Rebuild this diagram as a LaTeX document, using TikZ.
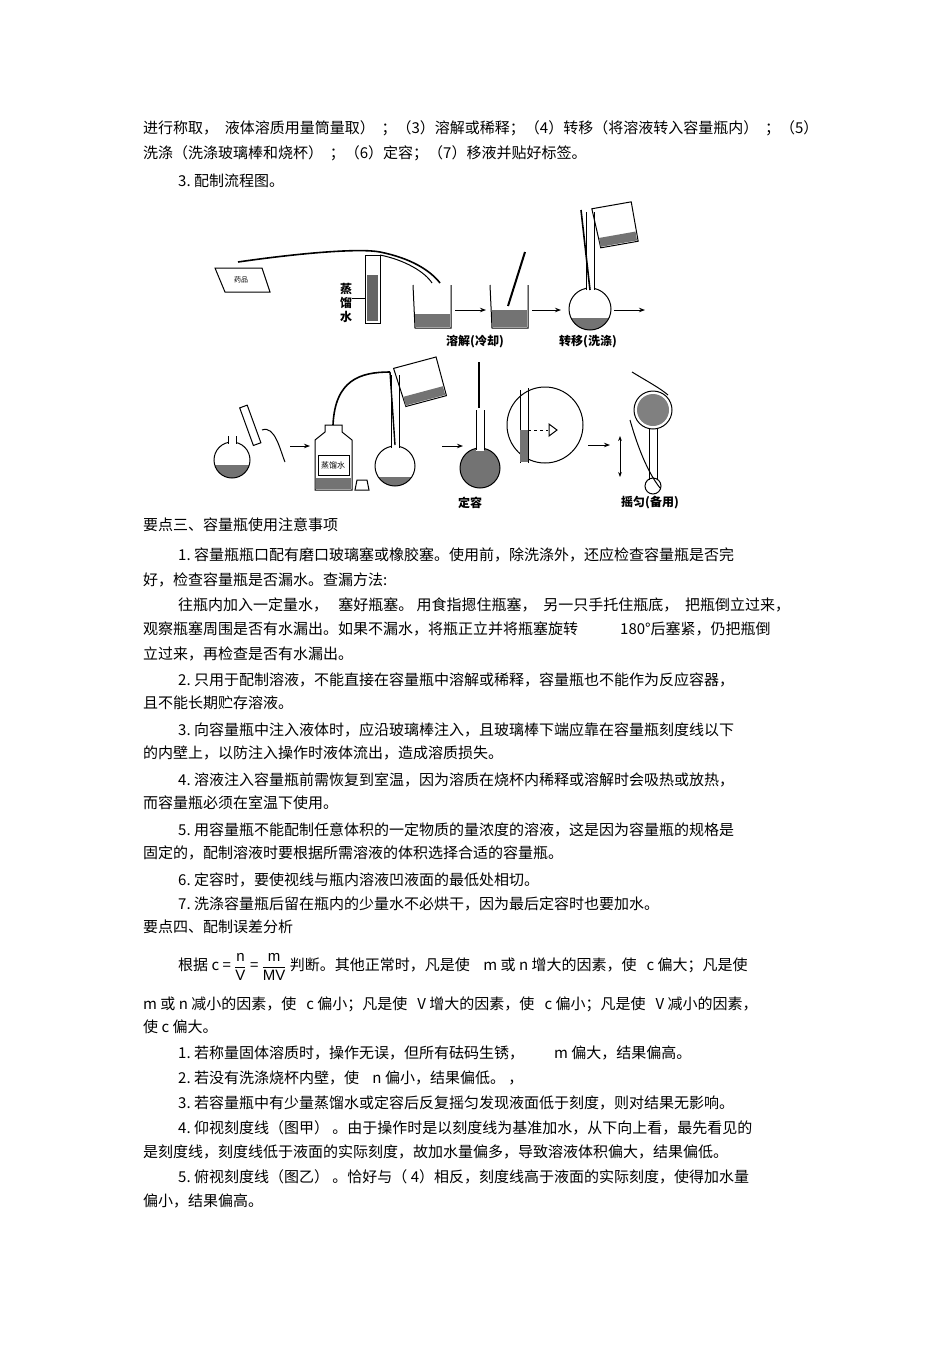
\documentclass[tikz,border=0pt]{standalone}
\usepackage{fontspec}
\setmainfont{Liberation Sans}
\newfontfamily\cjk{Noto Sans CJK SC}
\usetikzlibrary{arrows.meta}
\newcommand\tl[4]{\node[txt] (#1) at (#2,#3) {#4};}
% flask: center x, center y, radius, neck top y, liquid level y
\newcommand\flask[5]{%
 \begin{scope}\clip (#1,#2) circle[radius=#3]; \fill[black!55] (#1-#3,#5) rectangle (#1+#3,#2+#3);\end{scope}
 \draw[app] (#1,#2) circle[radius=#3];
 \fill[white] (#1-4,#2-#3-1) rectangle (#1+4,#2-#3+3);
 \draw[app] (#1-4,#2-#3+1.5) -- (#1-4,#4) (#1+4,#4) -- (#1+4,#2-#3+1.5);}
\begin{document}
\begin{tikzpicture}[x=1pt,y=-1pt,
 txt/.style={anchor=west,inner sep=0pt,font=\cjk\fontsize{15}{17}\selectfont},
 lab/.style={inner sep=0pt,font=\cjk\bfseries\fontsize{12}{14}\selectfont},
 app/.style={line width=1pt},
 arr/.style={-{Stealth[length=6pt]},line width=0.9pt}]
\useasboundingbox (0,0) rectangle (950,1345);
\fill[white] (0,0) rectangle (950,1345);
\tl{a1}{143}{128}{进行称取，\ \ 液体溶质用量筒量取）\ \ ；（3）溶解或稀释；（4）转移（将溶液转入容量瓶内）\ \ ；（5）}
\tl{a2}{143}{153}{洗涤（洗涤玻璃棒和烧杯）\ \ ；（6）定容；（7）移液并贴好标签。}
\tl{a3}{178}{181}{3.\ 配制流程图。}
% ---------- figure row 1
\draw[app] (215,268) -- (262,268) -- (270,292) -- (225,292) -- cycle;
\node[lab,font=\cjk\fontsize{7}{8}\selectfont] (yp) at (241,280) {药品};
\draw[app] (365,255) rectangle (380,323);
\fill[black!60] (367,275) rectangle (378,321);
\draw[line width=1.6pt] (238,262) .. controls (300,253) and (360,248) .. (380,252) .. controls (410,258) and (430,270) .. (440,283);
\draw[line width=1pt] (380,255) .. controls (405,260) and (425,272) .. (432,283);
\node[lab,align=center] (zl) at (346,303) {蒸\\馏\\水};
\draw (352,298) -- (365,298);
\draw[app] (413,285) -- (415,328) -- (451,328) -- (451,285);
\fill[black!55] (415,314) rectangle (450,327);
\draw[arr] (455,310) -- (486,310);
\draw[app] (490,285) -- (492,328) -- (528,328) -- (528,285);
\fill[black!55] (492,310) rectangle (527,327);
\draw[line width=2pt] (525,252) -- (508,306);
\node[lab] (rj) at (475,342) {溶解(冷却)};
\draw[arr] (532,310) -- (561,310);
\flask{590}{309}{21}{212}{318}
\draw[line width=1.6pt] (581,210) -- (590,290);
\draw[app,rotate around={10:(615,225)}] (595,205) -- (597,245) -- (635,245) -- (635,205) -- cycle;
\fill[black!55,rotate around={10:(615,225)}] (597,235) rectangle (634,244);
\node[lab] (zy) at (588,342) {转移(洗涤)};
\draw[arr] (614,310) -- (645,310);
% ---------- figure row 2
\flask{232}{460}{18}{436}{465}
\draw[app,rotate around={20:(252,430)}] (248,405) rectangle (256,445);
\draw[app] (262,430) .. controls (275,425) and (280,450) .. (285,462);
\draw[arr] (290,446) -- (310,446);
\draw[app] (315,490) -- (315,440) -- (325,432) -- (325,425) -- (342,425) -- (342,432) -- (352,440) -- (352,490) -- cycle;
\draw (318,455) rectangle (349,475);
\node[lab,font=\cjk\fontsize{8}{9}\selectfont] (bz) at (333,465) {蒸馏水};
\fill[black!55] (316,478) rectangle (351,489);
\draw[line width=1.6pt] (333,425) .. controls (335,380) and (360,372) .. (390,372);
\flask{395}{466}{20}{375}{477}
\draw[line width=1.4pt] (390,372) -- (395,445);
\draw[app,rotate around={15:(420,382)}] (398,362) -- (400,402) -- (442,402) -- (442,362) -- cycle;
\fill[black!55,rotate around={15:(420,382)}] (400,392) rectangle (441,401);
\draw[app] (357,480) -- (367,480) -- (369,490) -- (355,490) -- cycle;
\draw[arr] (442,446) -- (463,446);
\flask{480}{468}{20}{410}{448}
\draw[line width=2pt] (479,362) -- (479,408);
\node[lab] (dr) at (470,503) {定容};
\draw[app] (545,425) circle[radius=38];
\draw[app] (520,390) -- (520,463) (528,388) -- (528,463);
\fill[black!55] (520,430) rectangle (528,462);
\draw[dashed] (528,430) -- (548,430);
\draw[app] (549,424) -- (557,430) -- (549,436) -- cycle;
\draw[arr] (588,445) -- (610,445);
\draw[{Stealth[length=5pt]}-{Stealth[length=5pt]},line width=0.9pt] (620,436) -- (620,477);
\draw[app] (653,410) circle[radius=19];
\fill[black!50] (653,410) circle[radius=16];
\draw[app] (649,429) -- (649,480) (657,429) -- (657,480);
\draw[app] (653,486) circle[radius=8];
\draw[app] (632,372) .. controls (645,380) and (660,388) .. (668,395);
\draw[app] (630,420) .. controls (640,455) and (650,475) .. (660,488);
\node[lab] (yy) at (650,503) {摇匀(备用)};
% ---------- text
\tl{b1}{143}{525}{要点三、容量瓶使用注意事项}
\tl{b2}{178}{555}{1.\ 容量瓶瓶口配有磨口玻璃塞或橡胶塞。使用前，除洗涤外，还应检查容量瓶是否完}
\tl{b3}{143}{580}{好，检查容量瓶是否漏水。查漏方法:}
\tl{b4}{178}{605}{往瓶内加入一定量水，\ \ \ 塞好瓶塞。\ 用食指摁住瓶塞，\ \ 另一只手托住瓶底，\ \ 把瓶倒立过来，}
\tl{b5}{143}{629}{观察瓶塞周围是否有水漏出。如果不漏水，将瓶正立并将瓶塞旋转\hspace{42pt}180°后塞紧，仍把瓶倒}
\tl{b6}{143}{654}{立过来，再检查是否有水漏出。}
\tl{b7}{178}{680}{2.\ 只用于配制溶液，不能直接在容量瓶中溶解或稀释，容量瓶也不能作为反应容器，}
\tl{b8}{143}{703}{且不能长期贮存溶液。}
\tl{b9}{178}{730}{3.\ 向容量瓶中注入液体时，应沿玻璃棒注入，且玻璃棒下端应靠在容量瓶刻度线以下}
\tl{b10}{143}{753}{的内壁上，以防注入操作时液体流出，造成溶质损失。}
\tl{b11}{178}{780}{4.\ 溶液注入容量瓶前需恢复到室温，因为溶质在烧杯内稀释或溶解时会吸热或放热，}
\tl{b12}{143}{803}{而容量瓶必须在室温下使用。}
\tl{b13}{178}{830}{5.\ 用容量瓶不能配制任意体积的一定物质的量浓度的溶液，这是因为容量瓶的规格是}
\tl{b14}{143}{853}{固定的，配制溶液时要根据所需溶液的体积选择合适的容量瓶。}
\tl{b15}{178}{880}{6.\ 定容时，要使视线与瓶内溶液凹液面的最低处相切。}
\tl{b16}{178}{904}{7.\ 洗涤容量瓶后留在瓶内的少量水不必烘干，因为最后定容时也要加水。}
\tl{b17}{143}{927}{要点四、配制误差分析}
\tl{b18}{178}{967}{根据 \fontsize{15}{17}\selectfont c = $\displaystyle\frac{\textrm{n}}{\textrm{V}}$ = $\displaystyle\frac{\textrm{m}}{\textrm{MV}}$ \cjk\fontsize{15}{17}\selectfont 判断。其他正常时，凡是使\ \ \ \ m 或 n 增大的因素，使\ \ \ c 偏大；凡是使}
\tl{b19}{143}{1004}{m 或 n 减小的因素，使\ \ \ c 偏小；凡是使\ \ \ V 增大的因素，使\ \ \ c 偏小；凡是使\ \ \ V 减小的因素，}
\tl{b20}{143}{1027}{使 c 偏大。}
\tl{b21}{178}{1053}{1.\ 若称量固体溶质时，操作无误，但所有砝码生锈，\hspace{30pt}m 偏大，结果偏高。}
\tl{b22}{178}{1078}{2.\ 若没有洗涤烧杯内壁，使\ \ \ \ n 偏小，结果偏低。\ ，}
\tl{b23}{178}{1103}{3.\ 若容量瓶中有少量蒸馏水或定容后反复摇匀发现液面低于刻度，则对结果无影响。}
\tl{b24}{178}{1128}{4.\ 仰视刻度线（图甲）\ 。由于操作时是以刻度线为基准加水，从下向上看，最先看见的}
\tl{b25}{143}{1152}{是刻度线，刻度线低于液面的实际刻度，故加水量偏多，导致溶液体积偏大，结果偏低。}
\tl{b26}{178}{1177}{5.\ 俯视刻度线（图乙）\ 。恰好与（\ 4）相反，刻度线高于液面的实际刻度，使得加水量}
\tl{b27}{143}{1201}{偏小，结果偏高。}
\end{tikzpicture}
\end{document}
